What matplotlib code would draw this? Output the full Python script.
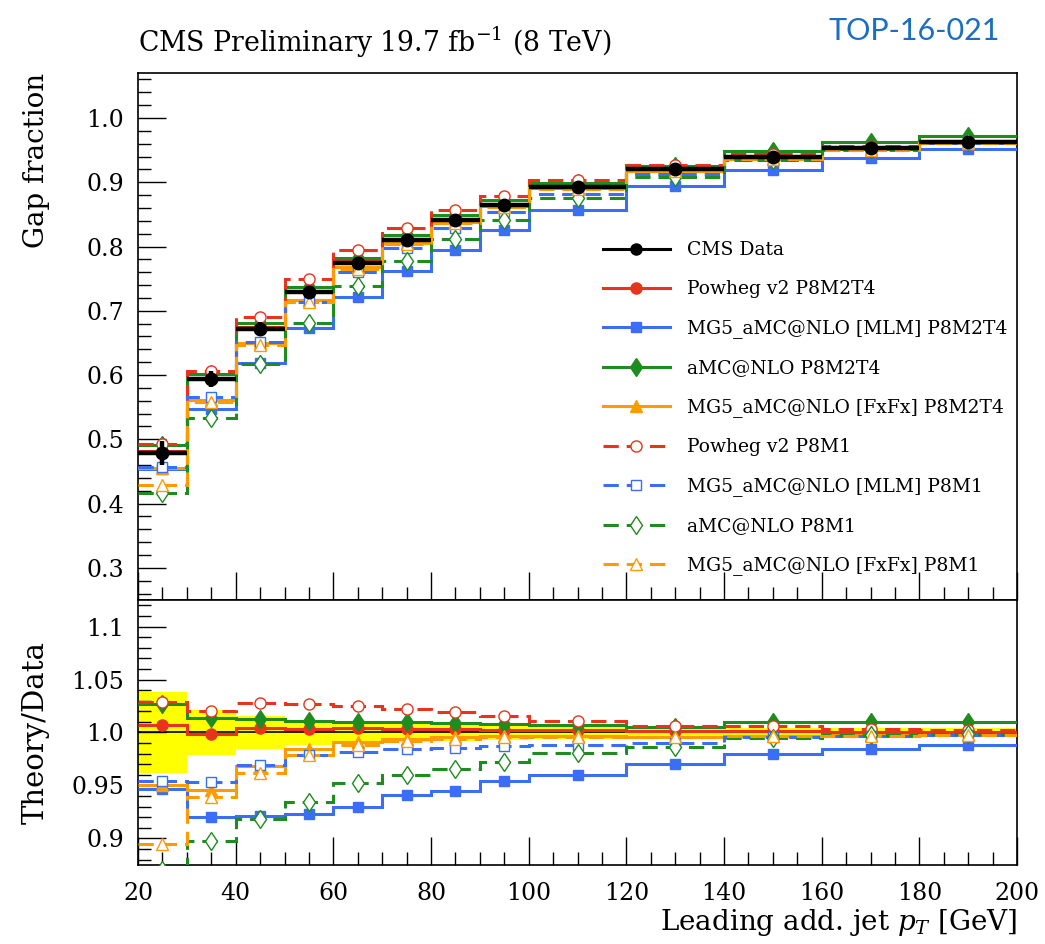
import numpy as np
import matplotlib
matplotlib.use("Agg")
import matplotlib.pyplot as plt
from matplotlib.lines import Line2D
from matplotlib.ticker import MultipleLocator, FixedLocator, FixedFormatter

plt.rcParams['font.family'] = ['DejaVu Serif']
plt.rcParams['mathtext.fontset'] = 'dejavuserif'

# binning in leading additional jet pT [GeV]
edges = np.array([20, 30, 40, 50, 60, 70, 80, 90, 100, 120, 140, 160, 180, 200])

# measured gap fraction and its relative uncertainty
data = [0.479, 0.594, 0.672, 0.729, 0.775, 0.810, 0.841, 0.865, 0.893, 0.921, 0.939, 0.953, 0.963]
data_relerr = [0.038, 0.021, 0.016, 0.012, 0.011, 0.009, 0.008, 0.007, 0.006, 0.005, 0.004, 0.004, 0.004]

# theory / data ratios
powheg_m2t4 = [1.007, 0.999, 1.004, 1.0035, 1.004, 1.003, 1.003, 1.002, 1.002, 1.001, 1.001, 1.000, 1.000]
mlm_m2t4 = [0.947, 0.920, 0.921, 0.923, 0.930, 0.941, 0.945, 0.954, 0.960, 0.970, 0.9795, 0.984, 0.988]
amc_m2t4 = [1.027, 1.0135, 1.013, 1.011, 1.010, 1.010, 1.009, 1.008, 1.007, 1.005, 1.0095, 1.0095, 1.0095]
fxfx_m2t4 = [0.950, 0.946, 0.968, 0.984, 0.9915, 0.994, 0.996, 0.997, 0.997, 0.996, 0.997, 0.998, 0.998]
powheg_m1 = [1.029, 1.020, 1.028, 1.027, 1.025, 1.0225, 1.019, 1.016, 1.011, 1.0066, 1.0057, 1.003, 1.002]
mlm_m1 = [0.954, 0.953, 0.969, 0.979, 0.982, 0.9845, 0.9855, 0.987, 0.988, 0.9905, 0.996, 0.997, 0.998]
amc_m1 = [0.870, 0.898, 0.918, 0.934, 0.952, 0.960, 0.9655, 0.972, 0.981, 0.986, 0.995, 0.998, 0.999]
fxfx_m1 = [0.895, 0.939, 0.962, 0.979, 0.988, 0.992, 0.994, 0.996, 0.996, 0.996, 0.997, 0.997, 0.998]

red, blue, green, orange = '#e8341c', '#3a6ef5', '#1e8c1e', '#ff9a00'
dashed = (0, (5, 2.6))

models = [
    ("Powheg v2 P8M2T4", powheg_m2t4, red, '-', 'o', True),
    ("MG5_aMC@NLO [MLM] P8M2T4", mlm_m2t4, blue, '-', 's', True),
    ("aMC@NLO P8M2T4", amc_m2t4, green, '-', 'd', True),
    ("MG5_aMC@NLO [FxFx] P8M2T4", fxfx_m2t4, orange, '-', '^', True),
    ("Powheg v2 P8M1", powheg_m1, red, dashed, 'o', False),
    ("MG5_aMC@NLO [MLM] P8M1", mlm_m1, blue, dashed, 's', False),
    ("aMC@NLO P8M1", amc_m1, green, dashed, 'd', False),
    ("MG5_aMC@NLO [FxFx] P8M1", fxfx_m1, orange, dashed, '^', False),
]

centers = 0.5 * (edges[1:] + edges[:-1])
halfw = 0.5 * np.diff(edges)
data = np.array(data)
data_err = data * np.array(data_relerr)

fig = plt.figure(figsize=(10.45, 9.44), dpi=100)
ax = fig.add_axes([0.1321, 0.3644, 0.8411, 0.5583])
rax = fig.add_axes([0.1321, 0.0837, 0.8411, 0.2807], sharex=ax)

msize = {'o': 8, 's': 7.5, 'd': 9.5, '^': 8}
handles = [Line2D([], [], color='black', lw=2.2, marker='o', ms=8, label="CMS Data")]

for label, ratio, col, ls, mk, filled in models:
    ratio = np.array(ratio)
    pred = data * ratio
    face = col if filled else 'white'
    for a, vals in ((ax, pred), (rax, ratio)):
        a.stairs(vals, edges, baseline=None, color=col, lw=2.2, linestyle=ls, zorder=3)
        a.plot(centers, vals, ls='none', marker=mk, ms=msize[mk], mfc=face,
               mec=col, mew=1.0, zorder=4)
    handles.append(Line2D([], [], color=col, lw=2.2, linestyle=ls, marker=mk,
                          ms=msize[mk], mfc=face, mec=col, mew=1.0, label=label))

# data points with bin-width bars
ax.errorbar(centers, data, xerr=halfw, yerr=data_err, fmt='o', color='black',
            ms=9, elinewidth=3.2, capsize=0, zorder=5)

# data uncertainty band in the ratio
rax.stairs(1 + np.array(data_relerr), edges, baseline=1 - np.array(data_relerr),
           fill=True, color='#ffff00', lw=0, zorder=1)
rax.axhline(1.0, color='black', lw=1.2, zorder=2)

ax.set_xlim(20, 200)
ax.set_ylim(0.25, 1.07)
rax.set_ylim(0.875, 1.125)

for a in (ax, rax):
    a.tick_params(which='both', direction='in', top=False, right=False, labelsize=17)
    a.tick_params(which='major', length=20, width=1.0)
    a.tick_params(which='minor', length=9.5, width=1.0)
    a.tick_params(axis='y', pad=10)
    a.tick_params(axis='x', pad=12)
    a.xaxis.set_major_locator(MultipleLocator(20))
    a.xaxis.set_minor_locator(MultipleLocator(5))
    for s in a.spines.values():
        s.set_linewidth(1.2)

ax.yaxis.set_major_locator(FixedLocator([0.3, 0.4, 0.5, 0.6, 0.7, 0.8, 0.9, 1.0]))
ax.yaxis.set_major_formatter(FixedFormatter(['0.3', '0.4', '0.5', '0.6', '0.7', '0.8', '0.9', '1.0']))
ax.yaxis.set_minor_locator(MultipleLocator(0.02))
plt.setp(ax.get_xticklabels(), visible=False)

rax.yaxis.set_major_locator(FixedLocator([0.9, 0.95, 1.0, 1.05, 1.1]))
rax.yaxis.set_major_formatter(FixedFormatter(['0.9', '0.95', '1.0', '1.05', '1.1']))
rax.yaxis.set_minor_locator(MultipleLocator(0.01))

ax.set_ylabel("Gap fraction", fontsize=20, loc='top')
rax.set_ylabel("Theory/Data", fontsize=21)
rax.set_xlabel("Leading add. jet $p_T$ [GeV]", fontsize=20, loc='right', labelpad=2)
ax.yaxis.set_label_coords(-0.1, 1.0)
rax.yaxis.set_label_coords(-0.1, 0.5)

ax.legend(handles=handles, loc='upper left', bbox_to_anchor=(0.52, 0.695), frameon=False,
          fontsize=13.5, handlelength=3.6, handletextpad=0.9, labelspacing=1.12,
          borderaxespad=0)

fig.text(0.1321, 0.945, "CMS Preliminary 19.7 fb$^{-1}$ (8 TeV)", fontsize=19.3,
         ha='left', va='baseline')
fig.text(0.957, 0.9576, "TOP-16-021", fontsize=22, color='#1a6fc4',
         family='Lato', ha='right', va='baseline')

fig.savefig("out.png", dpi=100)
